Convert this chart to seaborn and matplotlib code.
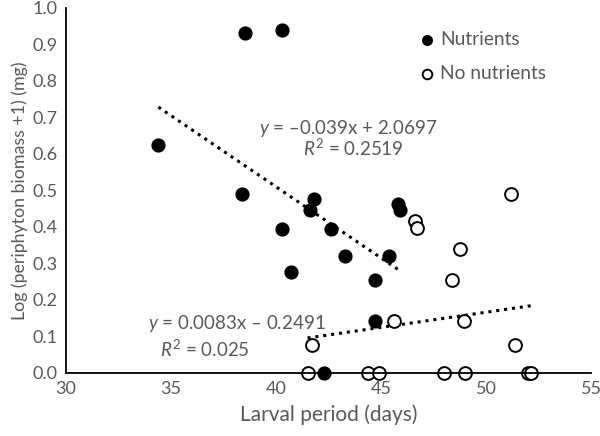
import numpy as np
import pandas as pd
import matplotlib
matplotlib.use("Agg")
import matplotlib.pyplot as plt
import seaborn as sns

# Nutrients (filled)
nut_x = [34.4, 38.5, 40.3, 38.4, 40.3, 41.8, 41.6, 42.6, 40.7, 43.3, 45.8, 45.9, 45.4, 44.7, 44.7, 42.3]
nut_y = [0.625, 0.93, 0.94, 0.49, 0.395, 0.476, 0.445, 0.395, 0.277, 0.32, 0.462, 0.445, 0.32, 0.253, 0.143, 0.0]

# No nutrients (open)
non_x = [51.2, 46.6, 46.7, 48.75, 48.4, 45.6, 48.95, 51.4, 41.7, 41.5, 44.4, 44.9, 48.0, 49.0, 52.0, 52.15]
non_y = [0.49, 0.415, 0.396, 0.34, 0.253, 0.143, 0.143, 0.077, 0.077, 0.0, 0.0, 0.0, 0.0, 0.0, 0.0, 0.0]

# trendlines (slope, intercept)
nut_fit = (-0.039, 2.0697)
non_fit = (0.0083, -0.2491)

grey = "#595959"
sns.set_style("white")
plt.rcParams['font.family'] = ['Lato', 'DejaVu Sans']
plt.rcParams['mathtext.fontset'] = 'custom'
plt.rcParams['mathtext.it'] = 'Lato:italic'
plt.rcParams['mathtext.rm'] = 'Lato'

df = pd.concat([
    pd.DataFrame({"x": nut_x, "y": nut_y, "grp": "Nutrients"}),
    pd.DataFrame({"x": non_x, "y": non_y, "grp": "No nutrients"}),
])

fig = plt.figure(figsize=(6, 4.36), dpi=100)
ax = fig.add_axes([0.11, 0.145, 0.875, 0.837])

# trendlines
for xs, (m, b) in [(nut_x, nut_fit), (non_x, non_fit)]:
    xx = np.array([min(xs), max(xs)])
    ax.plot(xx, m * xx + b, linestyle=(0, (1, 1.6)), color="black", lw=2.2, zorder=1)

sns.scatterplot(data=df[df.grp == "No nutrients"], x="x", y="y", ax=ax, s=85,
                facecolor="white", edgecolor="black", linewidth=1.4,
                label="No nutrients", zorder=2, clip_on=False)
sns.scatterplot(data=df[df.grp == "Nutrients"], x="x", y="y", ax=ax, s=85,
                color="black", edgecolor="black", linewidth=1,
                label="Nutrients", zorder=3, clip_on=False)

ax.set_xlim(30, 55)
ax.set_ylim(0, 1.0)
ax.set_xticks([30, 35, 40, 45, 50, 55])
ax.set_yticks(np.arange(0, 1.01, 0.1))
ax.set_yticklabels([f"{v:.1f}" for v in np.arange(0, 1.01, 0.1)])
ax.tick_params(length=0, labelsize=13, colors=grey, pad=6)
ax.set_xlabel("Larval period (days)", fontsize=15, color=grey, labelpad=5)
ax.set_ylabel("Log (periphyton biomass +1) (mg)", fontsize=12.8, color=grey, labelpad=3)
for s in ["top", "right"]:
    ax.spines[s].set_visible(False)
for s in ["left", "bottom"]:
    ax.spines[s].set_color("black")
    ax.spines[s].set_linewidth(1.3)

ax.text(39.2, 0.655, "$y$ = \u20130.039x + 2.0697", fontsize=13.5, color=grey)
ax.text(41.3, 0.595, "$R^2$ = 0.2519", fontsize=13.5, color=grey)
ax.text(33.9, 0.12, "$y$ = 0.0083x \u2013 0.2491", fontsize=13.5, color=grey)
ax.text(34.5, 0.045, "$R^2$ = 0.025", fontsize=13.5, color=grey)

h, l = ax.get_legend_handles_labels()
leg = ax.legend(h[::-1], l[::-1], loc="upper left", bbox_to_anchor=(0.64, 0.985),
                frameon=False, fontsize=13.8, handlelength=0.8, handletextpad=0.3,
                labelspacing=0.9, markerscale=0.75, labelcolor=grey)

fig.savefig("out.png", dpi=100)
